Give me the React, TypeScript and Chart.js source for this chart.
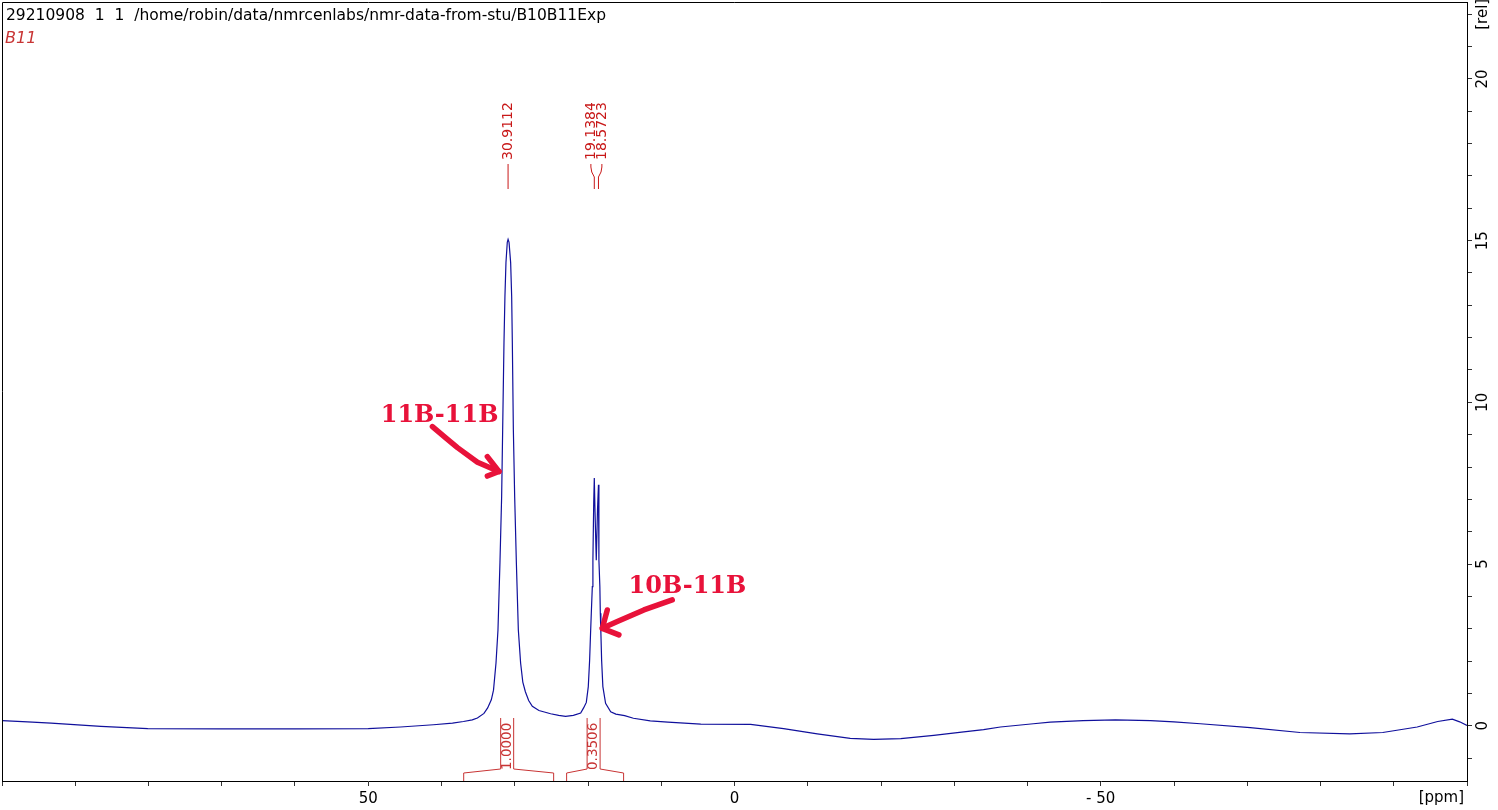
import React, { useEffect, useRef } from 'react';
import { Chart, registerables } from 'chart.js';

Chart.register(...registerables);

// ---------------- data ----------------
const ppm = [
  100.0, 96.5, 93.3, 86.5, 80.1, 70.0, 60.0, 50.0, 45.6, 41.1, 38.5, 37.0, 35.8, 35.1, 34.2, 33.7, 33.2, 32.9,
  32.56, 32.29, 32.02, 31.79, 31.65, 31.47, 31.34, 31.2, 31.02, 30.91, 30.78, 30.56, 30.42, 30.33, 30.19, 30.01,
  29.78, 29.51, 29.2, 28.9, 28.55, 28.1, 27.6, 26.7, 25.1, 24.0, 23.06, 22.0, 21.0, 20.6, 20.23, 19.96, 19.78,
  19.65, 19.55, 19.41, 19.33, 19.22, 19.14, 19.04, 18.87, 18.7, 18.57, 18.51, 18.38, 18.32, 18.24, 18.14, 17.97,
  17.6, 16.9, 16.2, 15.0, 13.8, 11.5, 9.1, 4.6, -2.2, -6.7, -11.3, -15.8, -19.0, -22.7, -27.2, -31.0, -34.0,
  -36.3, -40.8, -43.1, -47.6, -52.0, -56.8, -60.0, -63.6, -70.4, -77.2, -84.0, -88.5, -93.2, -96.0, -98.0, -99.0,
  -100.0,
];
const intensity = [
  0.16, 0.12, 0.08, -0.02, -0.09, -0.1, -0.1, -0.09, -0.04, 0.03, 0.08, 0.13, 0.18, 0.24, 0.38, 0.55, 0.8, 1.1,
  1.94, 2.96, 5.04, 7.08, 9.15, 11.85, 13.27, 14.32, 14.95, 15.04, 14.95, 14.32, 13.27, 11.85, 9.15, 7.08,
  5.04, 2.96, 1.94, 1.35, 1.05, 0.78, 0.6, 0.47, 0.37, 0.32, 0.29, 0.32, 0.39, 0.55, 0.72, 1.21, 2.02,
  2.87, 3.48, 4.3, 5.12, 6.9, 7.66, 6.6, 5.12, 6.7, 7.45, 5.12, 4.3, 3.48, 2.87, 2.02, 1.21,
  0.69, 0.43, 0.36, 0.31, 0.23, 0.15, 0.11, 0.05, 0.04, -0.09, -0.25, -0.39, -0.42, -0.4, -0.3, -0.2, -0.12,
  -0.04, 0.06, 0.11, 0.16, 0.18, 0.16, 0.12, 0.06, -0.06, -0.21, -0.25, -0.21, -0.04, 0.13, 0.2, 0.12,
  0.01,
];

const xRange = [100, -100];
const yRange = [-1.71, 22.38];
const xTicksLabelled = [50, 0, -50];
const yTicksLabelled = [0, 5, 10, 15, 20];
const yUnitTick = 22;
const xUnitLabel = '[ppm]';
const yUnitLabel = '[rel]';

const peakPpm = [30.9112, 19.1384, 18.5723];
const peakText = ['30.9112', '19.1384', '18.5723'];

const integralStart = [36.97, 22.92];
const integralEnd = [24.69, 15.14];
const integralText = ['1.0000', '0.3506'];

const headerLine = '29210908  1  1  /home/robin/data/nmrcenlabs/nmr-data-from-stu/B10B11Exp';
const nucleusLabel = 'B11';

const annotationText = ['11B-11B', '10B-11B'];
const annotationPpm = [48.3, 14.46];
const annotationValue = [9.39, 4.1];
const arrowShafts = [
  [[41.24, 9.25], [39.3, 8.88], [37.82, 8.6], [35.09, 8.15], [32.16, 7.86]],
  [[8.5, 3.89], [12.37, 3.58], [16.0, 3.22], [18.05, 3.01]],
];
const arrowHeads = [
  [[33.74, 8.32], [32.16, 7.86], [33.74, 7.72]],
  [[17.37, 3.58], [18.05, 3.01], [15.78, 2.81]],
];

// ---------------- styles ----------------
const TICK_FONT_FAMILY = "'DejaVu Sans', sans-serif";
const TICK_FONT_SIZE = 15;
const SPEC_COLOR = '#10109c';
const PEAK_COLOR = '#c81818';
const INT_COLOR = '#c83434';
const ANNOT_COLOR = '#e8123a';

const near = (v: number, list: number[]) => list.some((l) => Math.abs(v - l) < 1e-6);

const measureWidth = (text: string, font: string) => {
  const c = document.createElement('canvas').getContext('2d');
  if (!c) return 30;
  c.font = font;
  return c.measureText(text).width;
};

const overlayPlugin = {
  id: 'nmrOverlay',
  afterDraw(chart: any) {
    const { ctx, chartArea: a, scales } = chart;
    const X = (v: number) => scales.x.getPixelForValue(v);
    const Y = (v: number) => scales.y.getPixelForValue(v);
    ctx.save();

    // frame (left + top)
    ctx.strokeStyle = '#000';
    ctx.lineWidth = 1;
    ctx.beginPath();
    ctx.moveTo(a.left + 0.5, a.bottom);
    ctx.lineTo(a.left + 0.5, a.top + 0.5);
    ctx.lineTo(a.right, a.top + 0.5);
    ctx.stroke();

    // header
    ctx.fillStyle = '#000';
    ctx.font = "15.5px 'DejaVu Sans', sans-serif";
    ctx.textAlign = 'left';
    ctx.textBaseline = 'alphabetic';
    ctx.fillText(headerLine, a.left + 4, 20);
    ctx.fillStyle = INT_COLOR;
    ctx.font = "italic 16px 'DejaVu Sans', sans-serif";
    ctx.fillText(nucleusLabel, a.left + 3, 43);

    // x unit label
    ctx.fillStyle = '#000';
    ctx.font = `${TICK_FONT_SIZE}px ${TICK_FONT_FAMILY}`;
    ctx.textAlign = 'right';
    ctx.textBaseline = 'middle';
    ctx.fillText(xUnitLabel, a.right - 3, a.bottom + 17);

    // peak labels
    const px = peakPpm.map(X);
    const lx = px.slice();
    const gap = 11;
    for (let i = 1; i < lx.length; i++) {
      if (lx[i] - lx[i - 1] < gap) {
        const mid = (px[i] + px[i - 1]) / 2;
        lx[i - 1] = mid - gap / 2;
        lx[i] = mid + gap / 2;
      }
    }
    ctx.fillStyle = PEAK_COLOR;
    ctx.strokeStyle = PEAK_COLOR;
    ctx.lineWidth = 1;
    ctx.font = "14px 'DejaVu Sans', sans-serif";
    ctx.textAlign = 'left';
    ctx.textBaseline = 'middle';
    peakText.forEach((t, i) => {
      ctx.save();
      ctx.translate(lx[i], 160);
      ctx.rotate(-Math.PI / 2);
      ctx.fillText(t, 0, 0);
      ctx.restore();
      ctx.beginPath();
      if (Math.abs(lx[i] - px[i]) < 0.5) {
        ctx.moveTo(px[i], 164);
        ctx.lineTo(px[i], 189);
      } else {
        ctx.moveTo(lx[i], 164);
        ctx.lineTo(lx[i], 167);
        ctx.quadraticCurveTo(lx[i], 172, px[i], 177);
        ctx.lineTo(px[i], 189);
      }
      ctx.stroke();
    });

    // integrals
    ctx.strokeStyle = INT_COLOR;
    ctx.fillStyle = INT_COLOR;
    integralText.forEach((t, i) => {
      const xl = X(integralStart[i]);
      const xr = X(integralEnd[i]);
      const xc = (xl + xr) / 2 - 1.5;
      const b = a.bottom;
      ctx.beginPath();
      ctx.moveTo(xl, b);
      ctx.lineTo(xl, b - 8);
      ctx.lineTo(xc - 6.5, b - 12);
      ctx.lineTo(xc - 6.5, b - 63);
      ctx.moveTo(xc + 6.5, b - 63);
      ctx.lineTo(xc + 6.5, b - 12);
      ctx.lineTo(xr, b - 8);
      ctx.lineTo(xr, b);
      ctx.stroke();
      ctx.save();
      ctx.translate(xc, b - 11);
      ctx.rotate(-Math.PI / 2);
      ctx.textAlign = 'left';
      ctx.textBaseline = 'middle';
      ctx.font = "13.5px 'DejaVu Sans', sans-serif";
      ctx.fillText(t, 0, 0);
      ctx.restore();
    });

    // annotations
    ctx.fillStyle = ANNOT_COLOR;
    ctx.strokeStyle = ANNOT_COLOR;
    ctx.font = "bold 24px 'DejaVu Serif', serif";
    ctx.textAlign = 'left';
    ctx.textBaseline = 'alphabetic';
    annotationText.forEach((t, i) => {
      ctx.fillText(t, X(annotationPpm[i]), Y(annotationValue[i]));
    });
    ctx.lineWidth = 5.5;
    ctx.lineCap = 'round';
    ctx.lineJoin = 'round';
    const path = (pts: number[][]) => {
      ctx.beginPath();
      pts.forEach((p, j) => {
        const xx = X(p[0]);
        const yy = Y(p[1]);
        if (j === 0) ctx.moveTo(xx, yy);
        else ctx.lineTo(xx, yy);
      });
      ctx.stroke();
    };
    arrowShafts.forEach(path);
    arrowHeads.forEach(path);

    ctx.restore();
  },
};

export default function App() {
  const canvasRef = useRef<HTMLCanvasElement | null>(null);

  useEffect(() => {
    document.body.style.margin = '0';
    document.body.style.overflow = 'hidden';
    const canvas = canvasRef.current;
    if (!canvas) return;

    const tickFont = { family: TICK_FONT_FAMILY, size: TICK_FONT_SIZE };
    const widest = Math.max(
      ...[...yTicksLabelled.map(String), yUnitLabel].map((s) =>
        measureWidth(s, `${TICK_FONT_SIZE}px ${TICK_FONT_FAMILY}`)
      )
    );
    const yPad = 11 - widest / 2;

    const chart = new Chart(canvas, {
      type: 'line',
      data: {
        datasets: [
          {
            data: ppm.map((p, i) => ({ x: p, y: intensity[i] })),
            borderColor: SPEC_COLOR,
            borderWidth: 1.2,
            pointRadius: 0,
            tension: 0,
            fill: false,
          },
        ],
      },
      options: {
        animation: false,
        responsive: true,
        maintainAspectRatio: false,
        layout: { padding: { left: 2, top: 2, right: 0, bottom: 0 } },
        plugins: { legend: { display: false }, tooltip: { enabled: false } },
        scales: {
          x: {
            type: 'linear',
            reverse: true,
            min: xRange[1],
            max: xRange[0],
            position: 'bottom',
            afterFit: (s: any) => {
              s.height = 29;
              s.paddingLeft = 0;
              s.paddingRight = 0;
            },
            grid: { drawOnChartArea: false, drawTicks: true, tickLength: 5, color: '#333', tickColor: '#333' },
            border: { display: true, color: '#000', width: 1 },
            ticks: {
              stepSize: 10,
              autoSkip: false,
              includeBounds: false,
              minRotation: 0,
              maxRotation: 0,
              padding: 4,
              color: '#000',
              font: tickFont,
              callback: (v: any) => {
                const n = Number(v);
                if (!near(n, xTicksLabelled)) return '';
                return n < 0 ? '- ' + Math.abs(n) : String(n);
              },
            },
          },
          y: {
            type: 'linear',
            position: 'right',
            min: yRange[0],
            max: yRange[1],
            afterFit: (s: any) => {
              s.width = 31;
              s.paddingTop = 0;
              s.paddingBottom = 0;
            },
            grid: { drawOnChartArea: false, drawTicks: true, tickLength: 5, color: '#333', tickColor: '#333' },
            border: { display: true, color: '#000', width: 1 },
            ticks: {
              stepSize: 1,
              autoSkip: false,
              includeBounds: false,
              minRotation: 90,
              maxRotation: 90,
              crossAlign: 'center',
              padding: yPad,
              color: '#000',
              font: tickFont,
              callback: (v: any) => {
                const n = Number(v);
                if (Math.abs(n - yUnitTick) < 1e-6) return yUnitLabel;
                return near(n, yTicksLabelled) ? String(n) : '';
              },
            },
          },
        },
      },
      plugins: [overlayPlugin],
    } as any);

    return () => chart.destroy();
  }, []);

  return (
    <div style={{ position: 'relative', width: '1498px', height: '810px' }}>
      <canvas ref={canvasRef} style={{ display: 'block' }} />
    </div>
  );
}
